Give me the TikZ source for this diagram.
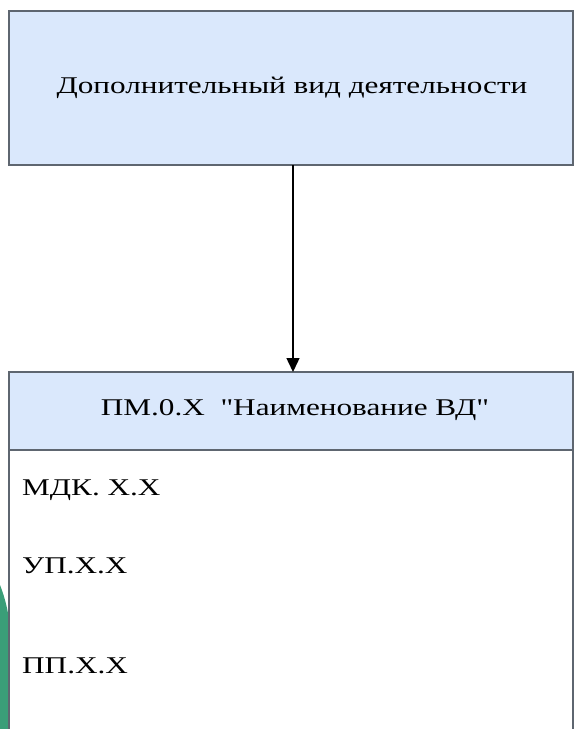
\documentclass[tikz,border=0pt]{standalone}
\usepackage{fontspec}
\setmainfont{Liberation Serif}
\newfontfamily\plainq{Liberation Serif}
\usetikzlibrary{arrows.meta}
\definecolor{boxfill}{HTML}{DAE8FC}
\definecolor{boxline}{HTML}{5E6670}
\definecolor{leaf}{HTML}{3A9E78}
\tikzset{
  bluebox/.style={draw=boxline, line width=1.2pt, fill=boxfill},
  bodybox/.style={draw=boxline, line width=1.2pt, fill=white},
  lbl/.style={inner sep=0pt, font=\fontsize{24}{28}\selectfont},
  conn/.style={line width=1.4pt, -{Triangle[length=14pt,width=13pt]}}
}
\newcommand{\wide}[1]{\scalebox{1.3}[1]{#1}}
\begin{document}
\begin{tikzpicture}[x=1pt,y=-1pt]
\useasboundingbox (0,0) rectangle (575,729);
% green background decoration
\fill[leaf] (0,585) .. controls (8,605) and (12,630) .. (12,660) -- (12,729) -- (0,729) -- cycle;
% top box
\draw[bluebox] (9,11) rectangle (573,165);
\node[lbl] (top) at (292,88) {\wide{Дополнительный вид деятельности}};
\coordinate (topb) at (293,165);
% bottom box
\draw[bodybox] (9,450) rectangle (573,740);
\draw[bluebox] (9,372) rectangle (573,450);
\coordinate (hdt) at (293,372);
\node[lbl] (hdr) at (295,410) {\wide{ПМ.0.Х\ \ {\plainq"}Наименование ВД{\plainq"}}};
\node[lbl, anchor=west] (mdk) at (22,490) {\wide{МДК. Х.Х}};
\node[lbl, anchor=west] (up) at (22,566) {\wide{УП.Х.Х}};
\node[lbl, anchor=west] (pp) at (22,666) {\wide{ПП.Х.Х}};
\draw[conn] (topb) -- (hdt);
\end{tikzpicture}
\end{document}
